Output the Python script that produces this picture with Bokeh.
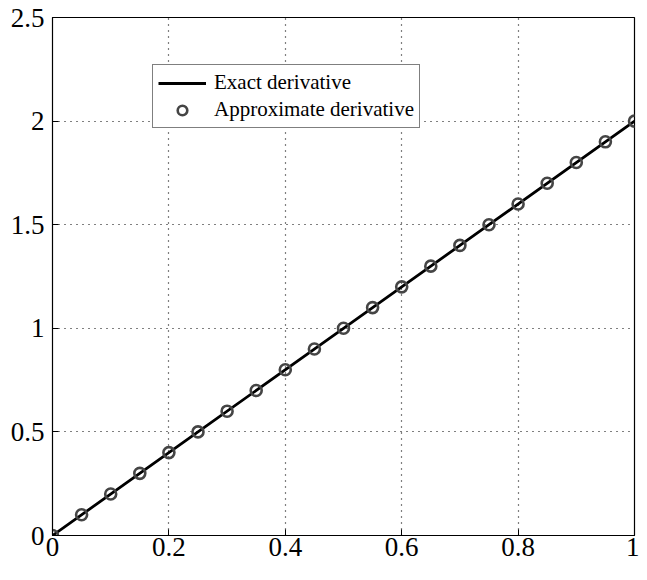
from bokeh.plotting import figure
from bokeh.models import Range1d, FixedTicker, Legend, LegendItem
from bokeh.embed import file_html
from bokeh.resources import INLINE

# Data
x_exact = [0.0, 0.25, 0.5, 0.75, 1.0]
y_exact = [0.0, 0.5, 1.0, 1.5, 2.0]
x_approx = [0.0, 0.05, 0.1, 0.15, 0.2, 0.25, 0.3, 0.35, 0.4, 0.45, 0.5,
            0.55, 0.6, 0.65, 0.7, 0.75, 0.8, 0.85, 0.9, 0.95, 1.0]
y_approx = [0.0, 0.1, 0.2, 0.3, 0.4, 0.5, 0.6, 0.7, 0.8, 0.9, 1.0,
            1.1, 1.2, 1.3, 1.4, 1.5, 1.6, 1.7, 1.8, 1.9, 2.0]
x_ticks = [0, 0.2, 0.4, 0.6, 0.8, 1]
y_ticks = [0, 0.5, 1, 1.5, 2, 2.5]
x_labels = {0: "0", 0.2: "0.2", 0.4: "0.4", 0.6: "0.6", 0.8: "0.8", 1: "1"}
y_labels = {0: "0", 0.5: "0.5", 1: "1", 1.5: "1.5", 2: "2", 2.5: "2.5"}

FONT = "Liberation Serif"

p = figure(width=639, height=564, output_backend="svg", toolbar_location=None,
           x_range=Range1d(0, 1), y_range=Range1d(0, 2.5),
           min_border_left=52, min_border_top=17, min_border_right=5,
           min_border_bottom=29)
p.background_fill_color = "white"
p.border_fill_color = "white"
p.outline_line_color = "black"
p.outline_line_width = 1.2

for ax, ticks, labels in ((p.xaxis[0], x_ticks, x_labels), (p.yaxis[0], y_ticks, y_labels)):
    ax.ticker = FixedTicker(ticks=ticks)
    ax.major_label_overrides = labels
    ax.major_label_text_font = FONT
    ax.major_label_text_font_size = "27px"
    ax.major_label_text_color = "black"
    ax.major_tick_in = 6
    ax.major_tick_out = 0
    ax.minor_tick_line_color = None
    ax.axis_line_color = "black"
    ax.major_tick_line_color = "black"
p.xaxis.major_label_standoff = 2
p.yaxis.major_label_standoff = 8

p.grid.grid_line_color = "black"
p.grid.grid_line_dash = "1 5"
p.grid.grid_line_width = 1.2
p.xgrid.ticker = FixedTicker(ticks=x_ticks)
p.ygrid.ticker = FixedTicker(ticks=y_ticks)

r_line = p.line(x_exact, y_exact, line_color="black", line_width=2.8)
r_circ = p.scatter(x_approx, y_approx, marker="circle", size=11, fill_color=None,
                   line_color="#454545", line_width=2.6)

legend = Legend(items=[LegendItem(label="Exact derivative", renderers=[r_line]),
                       LegendItem(label="Approximate derivative", renderers=[r_circ])],
                location=(100, 407))
legend.label_text_font = FONT
legend.label_text_font_size = "21px"
legend.label_text_color = "black"
legend.border_line_color = "black"
legend.border_line_width = 1.2
legend.background_fill_color = "white"
legend.background_fill_alpha = 1
legend.glyph_width = 48
legend.glyph_height = 24
legend.label_height = 24
legend.spacing = 2
legend.padding = 5
legend.margin = 0
legend.label_standoff = 8
p.add_layout(legend)

open("out.html", "w").write(file_html(p, INLINE))
